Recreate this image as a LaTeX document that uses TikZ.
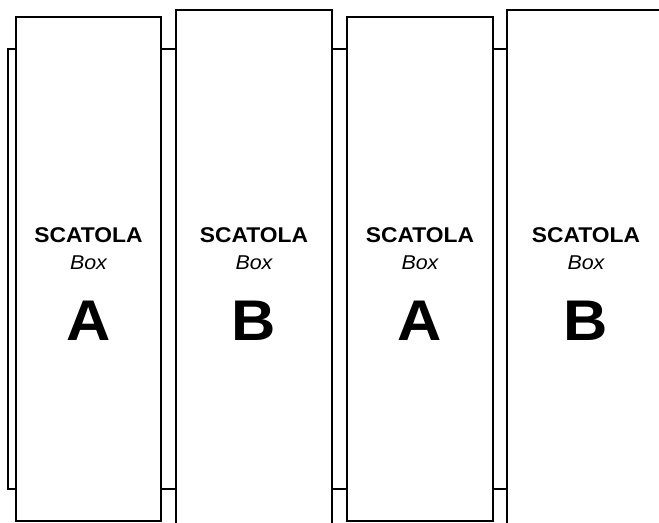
\documentclass[tikz,border=0pt]{standalone}
\usepackage{fontspec}
\setmainfont{Liberation Sans}[FakeStretch=1.07]
\begin{document}
\begin{tikzpicture}[x=0.75pt, y=-0.75pt, line width=2.1pt]
\tikzset{
  scatola/.style={draw, fill=white, inner sep=0pt},
  titolo/.style={anchor=base, inner sep=0pt, font=\fontsize{16}{18}\bfseries},
  sotto/.style={anchor=base, inner sep=0pt, font=\fontsize{15}{17}\itshape},
  lettera/.style={anchor=base, inner sep=0pt, font=\fontsize{43}{46}\bfseries}
}
\useasboundingbox (0,0) rectangle (659,522);
\node[scatola, minimum width=504pt, minimum height=330pt] (fondo) at (344,269) {};
\node[scatola, minimum width=108.75pt, minimum height=378pt] (boxA1) at (88.5,269) {};
\node[scatola, minimum width=117pt, minimum height=393pt] (boxB1) at (254,272) {};
\node[scatola, minimum width=109.5pt, minimum height=378pt] (boxA2) at (420,269) {};
\node[scatola, minimum width=118.5pt, minimum height=393pt] (boxB2) at (586,272) {};
% testi
\node[titolo] (titA1) at (88.5,242) {SCATOLA};
\node[sotto] (subA1) at (88.5,269) {Box};
\node[lettera] (letA1) at (88.5,340) {A};
\node[titolo] (titB1) at (254,242) {SCATOLA};
\node[sotto] (subB1) at (254,269) {Box};
\node[lettera] (letB1) at (254,340) {B};
\node[titolo] (titA2) at (420,242) {SCATOLA};
\node[sotto] (subA2) at (420,269) {Box};
\node[lettera] (letA2) at (420,340) {A};
\node[titolo] (titB2) at (586,242) {SCATOLA};
\node[sotto] (subB2) at (586,269) {Box};
\node[lettera] (letB2) at (586,340) {B};
\end{tikzpicture}
\end{document}
